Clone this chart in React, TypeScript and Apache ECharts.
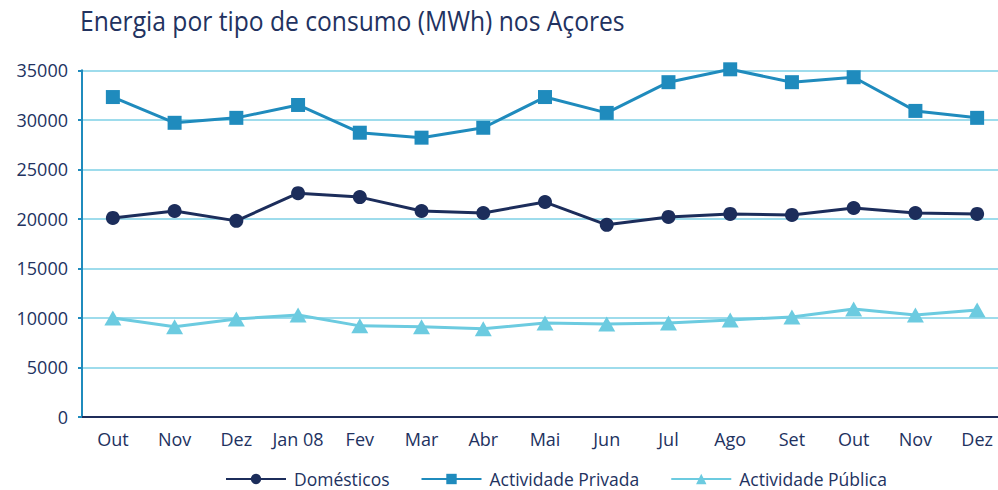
import React, { useEffect, useRef } from "react";
import * as echarts from "echarts";

const categories = ["Out", "Nov", "Dez", "Jan 08", "Fev", "Mar", "Abr", "Mai", "Jun", "Jul", "Ago", "Set", "Out", "Nov", "Dez"];
const domesticos = [20100, 20800, 19800, 22600, 22200, 20800, 20600, 21700, 19400, 20200, 20500, 20400, 21100, 20600, 20500];
const privada = [32300, 29700, 30200, 31500, 28700, 28200, 29200, 32300, 30700, 33800, 35100, 33800, 34300, 30900, 30200];
const publica = [10000, 9100, 9900, 10300, 9200, 9100, 8900, 9500, 9400, 9500, 9800, 10100, 10900, 10300, 10800];
const seriesNames = ["Domésticos", "Actividade Privada", "Actividade Pública"];
const title = "Energia por tipo de consumo (MWh) nos Açores";

const FONT = "'Open Sans', sans-serif";
const TEXT = "#22325f";

export default function App() {
  const ref = useRef<HTMLDivElement>(null);
  useEffect(() => {
    if (!ref.current) return;
    const chart = echarts.init(ref.current, null, { renderer: "svg" });
    chart.setOption({
      animation: false,
      textStyle: { fontFamily: FONT, color: TEXT },
      graphic: [
        {
          type: "text",
          x: 80,
          y: 6,
          scaleX: 0.88,
          style: {
            text: title,
            fontFamily: FONT,
            fontSize: 28,
            fill: TEXT,
            verticalAlign: "top",
            align: "left",
          },
        },
      ],
      legend: {
        left: 220,
        top: 465,
        itemWidth: 60,
        itemHeight: 13,
        itemGap: 31,
        textStyle: { fontFamily: FONT, fontSize: 17.5, lineHeight: 17, color: TEXT, padding: [0, 0, 0, 3] },
        data: seriesNames,
      },
      grid: { left: 82, width: 926, top: 70.3, bottom: 73, containLabel: false, outerBoundsMode: "none" },
      xAxis: {
        type: "category",
        data: categories,
        boundaryGap: true,
        axisLine: { lineStyle: { color: "#1f2d5a", width: 2 } },
        axisTick: { show: false },
        axisLabel: { fontFamily: FONT, fontSize: 18, color: TEXT, margin: 13, interval: 0 },
      },
      yAxis: {
        type: "value",
        min: 0,
        max: 35000,
        interval: 5000,
        axisLine: { show: true, lineStyle: { color: "#1f8bbd", width: 2 } },
        axisTick: { show: true, length: 4, lineStyle: { color: "#1f8bbd", width: 2 } },
        axisLabel: { fontFamily: FONT, fontSize: 18, color: TEXT, margin: 14, formatter: (v: number) => String(v) },
        splitLine: { lineStyle: { color: "#7ed0e6", width: 1.5 } },
      },
      series: [
        {
          name: seriesNames[0],
          type: "line",
          data: domesticos,
          symbol: "circle",
          symbolSize: 14,
          clip: false,
          itemStyle: { color: "#1c2d5b" },
          lineStyle: { color: "#1c2d5b", width: 3 },
        },
        {
          name: seriesNames[1],
          type: "line",
          data: privada,
          symbol: "rect",
          symbolSize: 14,
          clip: false,
          itemStyle: { color: "#1f8bbd" },
          lineStyle: { color: "#1f8bbd", width: 3 },
        },
        {
          name: seriesNames[2],
          type: "line",
          data: publica,
          symbol: "triangle",
          symbolSize: [17, 15],
          clip: false,
          itemStyle: { color: "#6ccbe0" },
          lineStyle: { color: "#6ccbe0", width: 3 },
        },
      ],
    });
    return () => chart.dispose();
  }, []);
  return <div ref={ref} style={{ width: 998, height: 490, position: "absolute", left: 0, top: 0 }} />;
}
